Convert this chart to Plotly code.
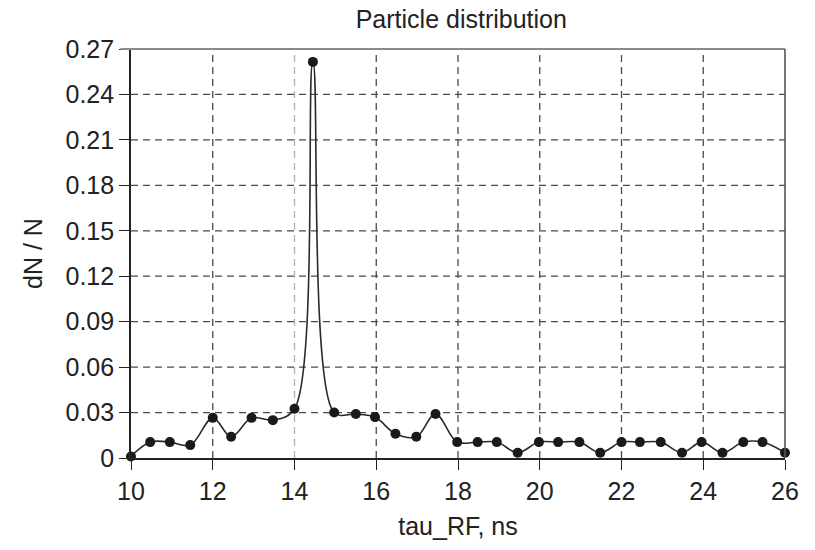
import plotly.graph_objects as go

tau_rf = [10, 10.47, 10.95, 11.45, 12.0, 12.45, 12.95, 13.47, 14.0, 14.45,
          14.97, 15.5, 15.97, 16.47, 16.98, 17.45, 17.98, 18.48, 18.95, 19.46,
          19.98, 20.45, 20.97, 21.48, 22.0, 22.45, 22.96, 23.48, 23.96, 24.47,
          24.98, 25.45, 26.0]
dn_n = [0.001, 0.0105, 0.0105, 0.0085, 0.0265, 0.014, 0.0265, 0.025, 0.0325, 0.2615,
        0.030, 0.029, 0.027, 0.016, 0.014, 0.029, 0.0105, 0.0105, 0.0105, 0.0035,
        0.0105, 0.0105, 0.0105, 0.0035, 0.0105, 0.0105, 0.0105, 0.0035, 0.0105, 0.0035,
        0.0105, 0.0105, 0.0035]

x_ticks = [10, 12, 14, 16, 18, 20, 22, 24, 26]
y_ticks = [0, 0.03, 0.06, 0.09, 0.12, 0.15, 0.18, 0.21, 0.24, 0.27]
y_ticktext = ["0", "0.03", "0.06", "0.09", "0.12", "0.15", "0.18", "0.21", "0.24", "0.27"]

FONT = "Liberation Sans, Arial, sans-serif"
FS = 25

fig = go.Figure()
fig.add_trace(go.Scatter(
    x=tau_rf, y=dn_n, mode="lines+markers",
    line=dict(color="#2a2a2a", width=1.6, shape="spline", smoothing=1.0),
    marker=dict(color="#1a1a1a", size=10),
    showlegend=False, cliponaxis=False,
))

shapes = []
# vertical grid lines (the one at 14 is lighter)
for xv in x_ticks[1:-1]:
    shapes.append(dict(type="line", xref="x", yref="paper", x0=xv, x1=xv, y0=0, y1=1,
                       line=dict(color="#b0b0b0" if xv == 14 else "#4a4a4a", width=1.3,
                                 dash="7px,5px"), layer="below"))
# horizontal grid lines
for yv in y_ticks[1:-1]:
    shapes.append(dict(type="line", xref="paper", yref="y", x0=0, x1=1, y0=yv, y1=yv,
                       line=dict(color="#4a4a4a", width=1.3, dash="7px,5px"), layer="below"))
# top border (gray) and right border
shapes.append(dict(type="line", xref="paper", yref="paper", x0=-0.016, x1=1, y0=1, y1=1,
                   line=dict(color="#8a8a8a", width=2)))
shapes.append(dict(type="line", xref="paper", yref="paper", x0=1, x1=1, y0=0, y1=1,
                   line=dict(color="#555555", width=1.6)))

fig.update_layout(
    width=815, height=550,
    margin=dict(l=131, r=30, t=49, b=92),
    paper_bgcolor="white", plot_bgcolor="white",
    font=dict(family=FONT, size=FS, color="#222222"),
    title=dict(text="Particle distribution", x=0.566, xanchor="center",
               y=1 - 19 / 550, yanchor="middle", yref="container",
               font=dict(size=FS, family=FONT, color="#222222")),
    shapes=shapes,
    xaxis=dict(range=[10, 26], tickvals=x_ticks, showgrid=False, zeroline=False,
               showline=True, linecolor="#222222", linewidth=1.6,
               ticks="outside", ticklen=10, tickcolor="#222222", tickwidth=1.3,
               tickfont=dict(size=FS), title=dict(text="tau_RF, ns", standoff=14,
                                                  font=dict(size=FS))),
    yaxis=dict(range=[0, 0.27], tickvals=y_ticks, ticktext=y_ticktext, showgrid=False,
               zeroline=False, showline=True, linecolor="#222222", linewidth=1.6,
               ticks="outside", ticklen=10, tickcolor="#222222", tickwidth=1.3,
               tickfont=dict(size=FS), title=dict(text="dN / N", standoff=16,
                                                  font=dict(size=FS))),
)

fig.write_html("out.html")
